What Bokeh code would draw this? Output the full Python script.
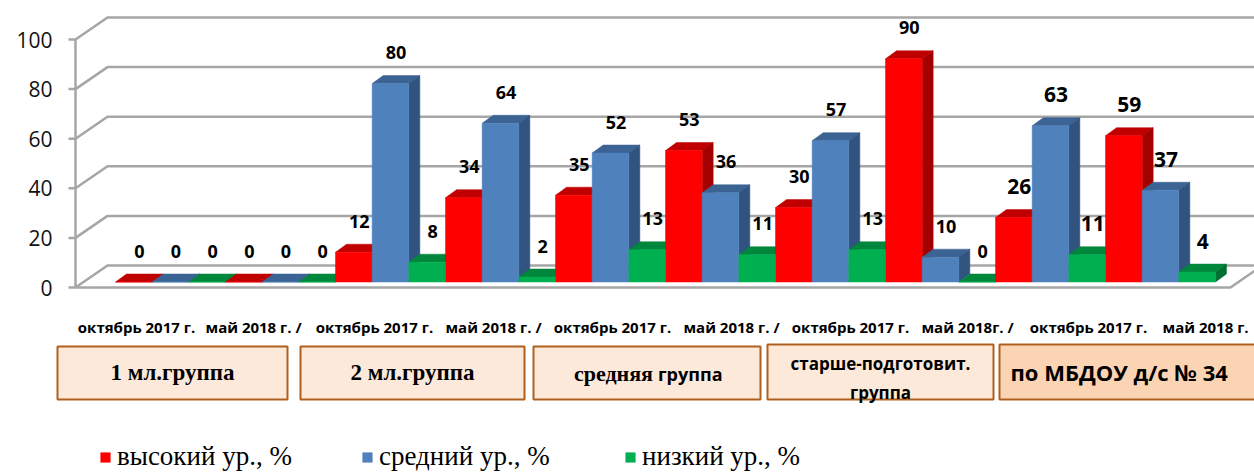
from bokeh.plotting import figure
from bokeh.models import ColumnDataSource, Range1d, Legend, LegendItem
from bokeh.core.properties import value, field
from bokeh.embed import file_html
from bokeh.resources import INLINE

# ---------------- data ----------------
periods = ["октябрь 2017 г.", "май  2018 г. /", "октябрь 2017 г.", "май 2018 г. /",
           "октябрь 2017 г.", "май 2018 г. /", "октябрь 2017 г.", "май  2018г. /",
           "октябрь 2017 г.", "май  2018 г."]
groups = ["1 мл.группа", "2 мл.группа", "средняя группа", "старше-подготовит. группа",
          "по МБДОУ   д/с № 34"]
series_names = ["высокий ур., %", "средний ур., %", "низкий ур., %"]
high = [0, 0, 12, 34, 35, 53, 30, 90, 26, 59]
mid = [0, 0, 80, 64, 52, 36, 57, 10, 63, 37]
low = [0, 0, 8, 2, 13, 11, 13, 0, 11, 4]
y_ticks = [0, 20, 40, 60, 80, 100]

series = [high, mid, low]

# ---------------- styles / layout ----------------
W, H = 1254, 472
FRONT = ["#FF0000", "#4F81BD", "#00B050"]
TOPC = ["#C00000", "#3B6393", "#00873B"]
SIDEC = ["#A30000", "#31537F", "#007031"]
GRID = "#A6A6A6"
SANS = "Open Sans"
SERIF = "Liberation Serif"

CAT_PX = 110.0      # pixels per category (bars)
Y_PX = 2.48         # pixels per value unit
X0_PAGE = 115.0     # screen x of first category start
Y0_PAGE = 287.0     # screen y of value 0 (front)


def px(xp):
    return (xp - X0_PAGE) / CAT_PX


def py(yp):
    return (Y0_PAGE - yp) / Y_PX


BASE = 5.5 / Y_PX          # bars sit slightly back on the floor
DX = 11 / CAT_PX           # bar depth (x)
DY = 8 / Y_PX              # bar depth (y)
WX = 32 / CAT_PX           # wall depth
WY = 22 / Y_PX
AX = px(75)                # front vertical axis
FE = px(1230)              # floor front end
XR = px(1270)

p = figure(width=W, height=H, output_backend="svg", toolbar_location=None,
           x_axis_type=None, y_axis_type=None, min_border=0,
           x_range=Range1d(px(0), px(W)),
           y_range=Range1d(py(H), py(0)))
p.outline_line_color = None
p.background_fill_color = "white"
p.border_fill_color = "white"

# ---------------- walls / grid ----------------
xs, ys = [], []
for v in y_ticks:
    xs.append([AX, AX + WX, XR])
    ys.append([v, v + WY, v + WY])
    xs.append([px(68), AX])
    ys.append([v, v])
xs.append([AX, AX]); ys.append([0, 100])
xs.append([AX, FE, FE + WX]); ys.append([0, 0, WY])
p.multi_line(xs, ys, line_color=GRID, line_width=2.5)

# y tick labels
p.text(x=[px(52)] * len(y_ticks), y=y_ticks, text=[str(v) for v in y_ticks],
       text_font=value(SANS), text_font_size="21px", text_color="#111111",
       text_align="right", text_baseline="middle")

# ---------------- 3D bars ----------------
bw = 1.0 / 3
fxs, fys, fcol = [], [], []
for c in range(len(periods)):
    for s in range(3):
        v = series[s][c]
        x0 = c + s * bw
        x1 = x0 + bw
        t = BASE + v
        fxs.append([x0, x1, x1 + DX, x0 + DX])
        fys.append([t, t, t + DY, t + DY])
        fcol.append(TOPC[s])
        fxs.append([x1, x1, x1 + DX, x1 + DX])
        fys.append([BASE, t, t + DY, BASE + DY])
        fcol.append(SIDEC[s])
p.patches(xs="xs", ys="ys", fill_color="c", line_color="c", line_width=0.5,
          source=ColumnDataSource(dict(xs=fxs, ys=fys, c=fcol)))

front_r = []
for s in range(3):
    src = ColumnDataSource(dict(
        x=[c + (s + 0.5) * bw for c in range(len(periods))],
        top=[BASE + v for v in series[s]]))
    r = p.vbar(x="x", top="top", bottom=BASE, width=bw, source=src,
               fill_color=FRONT[s], line_color=FRONT[s], line_width=0.5)
    front_r.append(r)

# value labels
lx, ly, lt, ls = [], [], [], []
for c in range(len(periods)):
    for s in range(3):
        v = series[s][c]
        lx.append(c + (s + 0.5) * bw + DX / 2)
        ly.append(BASE + v + 12.5)
        lt.append(str(v))
        ls.append("21px" if c >= 8 else "18px")
p.text(x="x", y="y", text="t", text_font_size=field("s"),
       source=ColumnDataSource(dict(x=lx, y=ly, t=lt, s=ls)),
       text_font=value(SANS), text_font_style="bold", text_color="#000000",
       text_align="center", text_baseline="middle")

# period labels
p.text(x=[px(136 + c * 119) for c in range(len(periods))],
       y=[py(326)] * len(periods), text=periods,
       text_font=value(SANS), text_font_style="bold", text_font_size="15px",
       text_color="#000000", text_align="center", text_baseline="middle")

# ---------------- group boxes ----------------
box_l = [57, 300, 533, 767, 999]
box_r = [287, 524, 760, 993, 1270]
box_t = [346, 346, 346, 344, 344]
box_b = [399, 399, 399, 399, 399]
box_fill = ["#FDE9D9", "#FDE9D9", "#FDE9D9", "#FDE9D9", "#FBD4B4"]
p.quad(left=[px(v) for v in box_l], right=[px(v) for v in box_r],
       top=[py(v) for v in box_t], bottom=[py(v) for v in box_b],
       fill_color=box_fill, line_color="#B0601E", line_width=2)

cx = [(a + b) / 2 for a, b in zip(box_l, box_r)]
p.text(x=[px(cx[0]), px(cx[1])], y=[py(372), py(372)], text=groups[:2],
       text_font=value(SERIF), text_font_style="bold", text_font_size="23px",
       text_color="#000000", text_align="center", text_baseline="middle")
g3a, g3b = groups[2].split(" ")
p.text(x=[px(cx[2] + 6)], y=[py(373)], text=[g3a],
       text_font=value(SERIF), text_font_style="bold", text_font_size="22px",
       text_color="#000000", text_align="right", text_baseline="middle")
p.text(x=[px(cx[2] + 11)], y=[py(373)], text=[g3b],
       text_font=value(SANS), text_font_style="bold", text_font_size="18px",
       text_color="#000000", text_align="left", text_baseline="middle")
g4a, g4b = groups[3].split(" ")
p.text(x=[px(cx[3]), px(cx[3])], y=[py(363), py(392)], text=[g4a, g4b],
       text_font=value(SANS), text_font_style="bold", text_font_size="17px",
       text_color="#000000", text_align="center", text_baseline="middle")
p.text(x=[px(1010)], y=[py(371)], text=[groups[4]],
       text_font=value(SANS), text_font_style="bold", text_font_size="22px",
       text_color="#000000", text_align="left", text_baseline="middle")

# ---------------- legend ----------------
leg_x = [99, 361, 624]
for s in range(3):
    leg = Legend(items=[LegendItem(label=series_names[s], renderers=[front_r[s]])],
                 location=(leg_x[s], 0), orientation="horizontal",
                 padding=0, margin=0, spacing=0, border_line_color=None,
                 background_fill_alpha=0, glyph_width=12, glyph_height=12,
                 label_standoff=6, label_text_font=SERIF,
                 label_text_font_size="27px", label_text_color="#000000")
    p.add_layout(leg)

open("out.html", "w").write(file_html(p, INLINE))
